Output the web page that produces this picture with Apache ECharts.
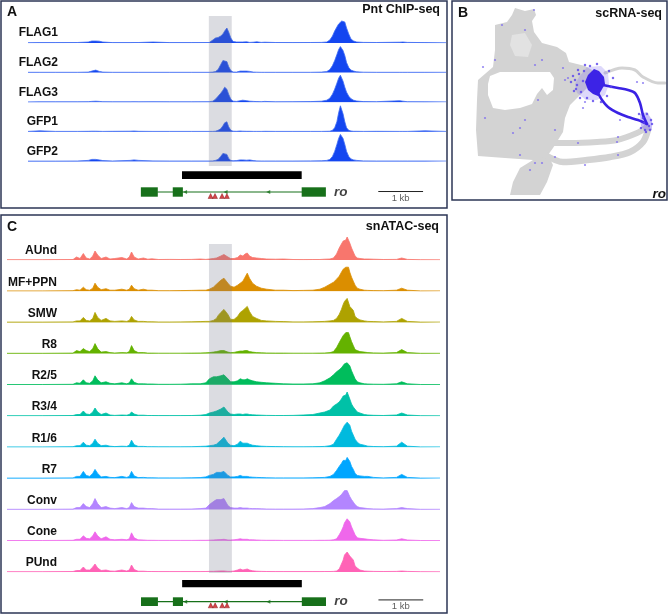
<!DOCTYPE html>
<html>
<head>
<meta charset="utf-8">
<script src="https://cdn.jsdelivr.net/npm/echarts/dist/echarts.min.js"></script>
<style>
  html, body { margin: 0; padding: 0; background: #fff; }
  #chart { width: 669px; height: 615px; }
</style>
</head>
<body>
<div id="chart"></div>
<script>
// ---- A: Pnt ChIP-seq coverage (position in kb, height in track units) ----
const chipNames = ['FLAG1', 'FLAG2', 'FLAG3', 'GFP1', 'GFP2']
const chipPos = [0.48, 0.75, 1.10, 1.60, 1.85, 1.93, 2.02, 2.10, 2.18, 2.40,
  2.80, 2.89, 3.00, 3.32, 3.70, 4.20, 4.60, 4.68, 4.74, 4.80,
  4.86, 4.91, 4.95, 5.00, 5.04, 5.09, 5.14, 5.22, 5.30, 5.36,
  5.45, 5.52, 5.60, 5.68, 5.78, 5.86, 6.10, 6.50, 6.90, 7.15,
  7.27, 7.34, 7.40, 7.45, 7.50, 7.54, 7.58, 7.61, 7.64, 7.68,
  7.72, 7.77, 7.82, 7.88, 7.95, 8.10, 8.40, 8.93, 9.00, 9.10,
  9.50, 9.98]
const chipFLAG1 = [0.3, 0.4, 0.4, 0.5, 1, 2, 2, 1.8, 1, 0.4,
  0.4, 0.5, 0.5, 1, 0.4, 0.4, 0.5, 3, 5, 5.5,
  7, 9, 12, 15, 11, 5, 1.5, 1, 1, 1,
  1.2, 0.6, 0.8, 1.2, 0.6, 0.8, 0.5, 0.4, 0.5, 0.6,
  1, 3, 7, 12, 16, 19, 21, 22, 23, 21,
  15, 9, 4, 2, 1, 0.6, 0.5, 0.8, 1, 0.6,
  0.4, 0.3]
const chipFLAG2 = [0.3, 0.3, 0.3, 0.3, 0.5, 1.5, 2.5, 1.2, 0.5, 0.3,
  0.3, 0.3, 0.3, 0.3, 0.3, 0.3, 0.3, 0.5, 1, 3,
  8, 12, 13, 11, 6, 2, 0.6, 0.5, 1.5, 1.5,
  1.5, 1.2, 0.5, 0.4, 0.3, 0.3, 0.3, 0.3, 0.3, 0.5,
  1, 3, 7, 12, 18, 23, 26, 25, 22, 17,
  10, 5, 2.5, 1.5, 0.8, 0.4, 0.3, 0.3, 0.3, 0.3,
  0.3, 0.3]
const chipFLAG3 = [0.3, 0.4, 0.4, 0.4, 0.5, 0.8, 1, 0.8, 0.5, 0.4,
  0.4, 0.5, 0.4, 0.5, 0.4, 0.4, 0.5, 1, 3, 6,
  9, 12, 15, 13, 8, 3, 1, 0.8, 1.5, 2,
  1.5, 1, 0.8, 0.6, 0.5, 0.8, 0.4, 0.5, 0.6, 1,
  2, 4, 8, 13, 19, 24, 27, 25, 21, 15,
  10, 6, 3.5, 2, 1.2, 0.6, 0.5, 1.5, 1, 0.5,
  0.4, 0.3]
const chipGFP1 = [0.4, 1, 0.4, 0.4, 0.5, 0.6, 0.6, 0.5, 0.4, 0.5,
  0.6, 0.8, 0.5, 0.4, 0.4, 0.4, 0.4, 0.4, 0.6, 1.5,
  3, 6, 9, 10, 5, 1.5, 0.6, 0.5, 0.8, 0.6,
  0.5, 0.5, 0.4, 0.4, 0.4, 0.5, 0.4, 0.4, 0.4, 0.4,
  0.5, 0.6, 1.5, 4, 10, 19, 26, 24, 18, 10,
  4, 1.5, 0.8, 0.5, 0.5, 0.4, 0.5, 0.4, 0.4, 0.4,
  1, 0.4]
const chipGFP2 = [0.3, 0.3, 0.3, 0.4, 1, 2, 2, 1.5, 0.8, 0.4,
  1, 1.5, 1, 0.5, 0.4, 0.4, 0.4, 0.5, 1, 2,
  5, 8, 9, 7, 3, 1, 0.6, 0.8, 1.5, 1.5,
  1.2, 1.5, 0.8, 0.5, 0.4, 0.4, 0.4, 0.4, 0.5, 0.6,
  1, 2, 5, 10, 17, 23, 27, 26, 23, 17,
  10, 5, 2.5, 1.5, 1, 0.5, 0.4, 0.4, 0.4, 0.4,
  0.4, 0.3]
const chipValues = [chipFLAG1, chipFLAG2, chipFLAG3, chipGFP1, chipGFP2]

// ---- C: snATAC-seq pseudobulk coverage ----
const atacNames = ['AUnd', 'MF+PPN', 'SMW', 'R8', 'R2/5', 'R3/4', 'R1/6', 'R7', 'Conv', 'Cone', 'PUnd']
const atacColors = ['#F8766D', '#DB8E00', '#AEA200', '#64B200', '#00BD5C', '#00C1A7',
  '#00BADE', '#00A6FF', '#B385FF', '#EF67EB', '#FF63B6']
const atacPos = [0.00, 0.80, 1.50, 1.58, 1.66, 1.735, 1.80, 1.88, 1.95, 2.00,
  2.06, 2.14, 2.25, 2.34, 2.45, 2.61, 2.72, 2.78, 2.83, 2.89,
  2.98, 3.10, 3.20, 3.29, 3.45, 3.70, 3.95, 4.20, 4.39, 4.52,
  4.60, 4.69, 4.76, 4.80, 4.86, 4.93, 4.96, 5.02, 5.08, 5.16,
  5.24, 5.30, 5.36, 5.41, 5.46, 5.51, 5.58, 5.67, 5.78, 5.90,
  6.10, 6.28, 6.50, 6.73, 6.95, 7.11, 7.22, 7.34, 7.42, 7.49,
  7.55, 7.60, 7.64, 7.67, 7.70, 7.73, 7.76, 7.79, 7.83, 7.87,
  7.91, 7.96, 8.02, 8.06, 8.12, 8.20, 8.33, 8.55, 8.85, 8.97,
  9.10, 9.40, 9.84]
const atacAUnd = [0.3, 0.3, 0.5, 3, 1.5, 6.5, 2, 1, 4, 9,
  5, 1.5, 3, 1, 1.5, 2.5, 1, 3, 8, 3,
  1, 2, 0.8, 1.2, 0.5, 0.6, 0.5, 0.6, 1, 0.6,
  1, 1.5, 2, 3, 4, 5.5, 6, 3, 1.5, 1.5,
  2.5, 5, 4, 6, 7, 4, 2.5, 2, 1.5, 1,
  0.8, 1, 0.5, 0.4, 0.5, 0.5, 0.8, 1, 2, 6,
  12, 16, 19, 21, 20, 23, 21, 17, 12, 8,
  4, 2, 1.5, 3, 1, 1, 0.8, 0.5, 0.6, 2,
  0.6, 0.3, 0.3]
const atacMFPPN = [0.3, 0.3, 0.5, 1.5, 1, 4, 1.5, 1, 3, 8,
  4, 1.5, 2.5, 1, 1, 2, 1, 2, 6, 2.5,
  1, 2, 1, 1, 0.5, 0.5, 0.6, 0.8, 1, 1,
  2, 4, 7, 9, 11, 13, 12, 8, 5, 4,
  6, 8, 10, 14, 18, 13, 8, 5, 3, 2,
  1, 1, 0.6, 0.8, 1, 2, 4, 7, 9, 12,
  15, 19, 22, 20, 24, 22, 24, 19, 14, 10,
  6, 3, 2, 1.5, 1, 0.8, 0.6, 0.5, 1, 3,
  1, 0.3, 0.3]
const atacSMW = [0.3, 0.3, 0.5, 1.5, 1.5, 5, 2, 1.5, 4, 10,
  5, 2, 4, 1.5, 1, 1.5, 1, 2, 6, 2.5,
  1, 1, 0.6, 0.6, 0.4, 0.4, 0.5, 0.6, 0.8, 1,
  1, 2, 4, 7, 10, 13, 14, 8, 3, 3,
  6, 10, 12, 14, 16, 11, 6, 4, 2, 1.5,
  1, 0.8, 0.5, 0.5, 0.6, 0.8, 1, 1.5, 2, 4,
  8, 13, 18, 21, 20, 24, 22, 16, 14, 12,
  6, 4, 2.5, 3, 1.5, 1, 0.8, 0.5, 1, 4,
  1, 0.3, 0.3]
const atacR8 = [0.3, 0.3, 0.5, 3, 2, 5, 3, 2, 5, 10,
  5, 1.5, 2, 1, 0.6, 1, 0.8, 2, 8, 3,
  1, 1, 0.5, 0.5, 0.4, 0.4, 0.4, 0.5, 0.6, 0.8,
  1, 1.5, 2, 2.5, 3, 3, 2, 1.5, 1, 1.2,
  2, 2.5, 2.5, 3, 3, 2, 1.5, 1, 0.8, 0.6,
  0.5, 0.5, 0.4, 0.4, 0.4, 0.5, 0.6, 1, 2, 6,
  11, 15, 18, 19, 21, 20, 21, 17, 12, 8,
  4, 3, 2, 3, 1.5, 1, 0.7, 0.5, 1, 4,
  1, 0.3, 0.3]
const atacR25 = [0.3, 0.3, 0.5, 2, 1.5, 5, 2, 1.5, 4, 9,
  5, 2, 3, 1.5, 1, 2, 1, 2, 6, 2.5,
  1, 1, 0.8, 0.8, 0.5, 0.5, 0.6, 1, 1, 2,
  6, 8, 8, 9, 9, 10, 9, 6, 3, 3,
  4, 6, 5, 5, 6, 5, 4, 3, 2.5, 2,
  1.5, 1, 0.8, 0.8, 1, 2, 4, 7, 10, 13,
  15, 17, 19, 21, 20, 22, 21, 19, 14, 10,
  6, 3, 2, 1.5, 1, 0.8, 0.6, 0.5, 1, 3,
  1, 0.3, 0.3]
const atacR34 = [0.3, 0.3, 0.5, 1.5, 1.5, 5, 2, 1.5, 4, 8,
  4, 1.5, 3, 1, 0.6, 1, 0.8, 1.5, 4, 2,
  0.8, 0.8, 0.5, 0.5, 0.4, 0.4, 0.4, 0.5, 0.8, 1.5,
  3, 4, 5, 5, 7, 9, 8, 4, 2, 1.5,
  2, 2, 1.5, 2, 2, 1.5, 1.2, 1, 0.8, 0.6,
  0.5, 0.5, 0.6, 1, 1.5, 3, 4, 6, 10, 12,
  14, 17, 20, 22, 21, 24, 22, 17, 12, 9,
  8, 4, 3, 2, 1.5, 1, 0.7, 0.5, 1, 3,
  1, 0.3, 0.3]
const atacR16 = [0.3, 0.3, 0.5, 1.5, 1.5, 5, 2, 1.5, 4, 8,
  4, 1.5, 2, 1, 0.6, 1, 0.8, 2, 7, 2.5,
  0.8, 0.8, 0.5, 0.5, 0.4, 0.4, 0.4, 0.5, 0.8, 1,
  1.5, 2, 3, 4, 7, 10, 8, 4, 2, 1.5,
  3, 6, 4, 4, 4, 3, 2, 1.5, 1, 0.8,
  0.6, 0.5, 0.4, 0.4, 0.5, 0.6, 0.8, 1.5, 3, 8,
  12, 16, 18, 22, 20, 25, 27, 22, 16, 14,
  8, 5, 3, 5, 2, 1, 0.7, 0.5, 1, 5,
  1, 0.3, 0.3]
const atacR7 = [0.3, 0.3, 0.5, 2, 2, 7, 3, 2, 5, 9,
  5, 1.5, 2, 1, 0.8, 2, 1, 2, 7, 2.5,
  0.8, 1, 0.6, 0.6, 0.5, 0.5, 0.5, 0.6, 0.8, 1.5,
  3, 4, 6, 6, 6, 7, 6, 3, 1.5, 1.5,
  2, 3, 2, 2, 2, 1.5, 1.2, 1, 0.8, 0.6,
  0.5, 0.5, 0.5, 0.5, 0.6, 0.8, 1, 2, 4, 8,
  12, 15, 18, 19, 18, 21, 22, 17, 12, 9,
  5, 3, 2.5, 3, 2, 2, 1, 0.5, 1, 4,
  1, 0.3, 0.3]
const atacConv = [0.3, 0.3, 0.5, 2, 2, 6, 3, 2, 6, 11,
  6, 2, 3, 1.5, 1, 2, 1, 2, 7, 3,
  1.5, 1.5, 1, 1, 0.5, 0.5, 0.5, 0.6, 1, 1.5,
  5, 8, 10, 9, 10, 11, 10, 4, 2, 1.5,
  1.5, 2, 1.5, 1.5, 1.5, 1.2, 1, 1, 0.8, 0.6,
  0.5, 0.5, 0.5, 0.6, 1, 2, 3, 6, 9, 11,
  13, 15, 17, 19, 18, 19, 17, 13, 10, 8,
  5, 3, 2, 2, 1.5, 1, 0.7, 0.5, 1, 2,
  1, 0.3, 0.3]
const atacCone = [0.3, 0.3, 0.5, 1.5, 1.5, 5, 2.5, 2, 5, 9,
  5, 2, 4, 1.5, 1, 1.5, 1, 2, 8, 3,
  1, 0.8, 0.5, 0.5, 0.4, 0.4, 0.4, 0.4, 0.5, 0.5,
  0.6, 0.8, 1, 1, 1.2, 1.5, 1.2, 0.8, 0.8, 1,
  1.5, 2, 1.5, 1.5, 1.5, 1, 1, 0.8, 0.6, 0.5,
  0.5, 0.4, 0.4, 0.4, 0.4, 0.5, 0.5, 0.6, 1, 2,
  6, 10, 14, 18, 20, 22, 24, 19, 14, 10,
  6, 3, 2.5, 2, 2, 1.5, 1, 0.5, 0.8, 2,
  0.8, 0.3, 0.3]
const atacPUnd = [0.3, 0.3, 0.5, 1.5, 1.5, 5, 2, 2, 5, 8,
  4, 1.5, 2, 1, 0.8, 2, 1, 2, 7, 2.5,
  0.8, 0.8, 0.5, 0.5, 0.4, 0.4, 0.4, 0.4, 0.4, 0.5,
  0.6, 0.6, 0.8, 0.8, 1, 1, 0.8, 0.6, 0.6, 1,
  2, 3, 2, 2.5, 3, 2, 1.2, 0.8, 0.6, 0.5,
  0.4, 0.4, 0.4, 0.4, 0.4, 0.4, 0.5, 0.5, 0.6, 1,
  3, 8, 12, 17, 19, 20, 21, 16, 15, 12,
  6, 4, 2, 1.5, 1, 0.8, 0.6, 0.5, 0.6, 1,
  0.6, 0.3, 0.3]
const atacValues = [atacAUnd, atacMFPPN, atacSMW, atacR8, atacR25, atacR34,
  atacR16, atacR7, atacConv, atacCone, atacPUnd]

// ---- shared locus annotation (kb) ----
const highlightSpan = [[4.59, 5.11]]
const peakBar = [[3.98, 6.70]]
const roExons = [[3.045, 3.43], [3.77, 4.0], [6.70, 7.25]]
const roIntron = [3.43, 6.70]
const roStrand = [4.05, 4.97, 5.94]
const pntSites = [4.63, 4.73, 4.89, 5.0]
const scaleBar = [8.45, 9.45]

// ---- B: UMAP outline (UMAP1, UMAP2) ----
const umapBody = [[5.0, 17.5], [6.2, 17.8], [6.7, 18.5], [7.0, 19.2], [8.0, 18.9], [8.9, 19.1],
  [9.1, 18.5], [8.7, 17.9], [8.9, 16.8], [9.7, 15.7], [11.2, 15.3], [12.1, 14.7], [12.4, 13.8],
  [14.0, 13.4], [14.7, 13.0], [14.9, 12.0], [14.2, 11.2], [13.5, 10.5], [12.5, 9.5], [12.0, 8.2],
  [11.8, 6.8], [10.8, 5.2], [10.3, 4.5], [10.8, 3.5], [10.2, 1.8], [9.5, 0.5], [6.5, 0.5],
  [6.8, 1.8], [7.5, 3.2], [8.8, 4.0], [6.0, 4.2], [3.3, 4.4], [3.1, 7.0], [3.2, 10.0],
  [3.3, 12.0], [4.8, 13.3], [5.0, 15.0]]
const umapHole = [[4.5, 12.4], [5.5, 12.8], [8.0, 12.8], [10.5, 12.8], [10.9, 12.2], [10.8, 11.0],
  [10.2, 10.5], [9.7, 11.2], [9.2, 10.6], [8.7, 9.6], [7.5, 9.2], [6.0, 9.0], [4.8, 9.2],
  [4.3, 10.5], [4.3, 11.6]]
const umapSparse = [[6.7, 16.5], [8.0, 16.7], [8.7, 15.5], [8.3, 14.3], [7.0, 14.4], [6.5, 15.5]]
const umapArcUpper = [[10.3, 5.7], [12.5, 5.7], [15.2, 5.8], [17.2, 6.0], [19.2, 6.7], [20.2, 7.3]]
const umapArcLower = [[10.0, 4.5], [11.8, 3.8], [14.2, 4.0], [16.5, 4.3], [18.5, 4.8], [19.8, 5.8], [20.3, 7.0]]
const umapTail = [[16.0, 12.7], [17.7, 13.2], [19.0, 13.0], [19.8, 12.3], [21.3, 11.7], [22.0, 11.7]]
const roHalo = [[13.4, 12.3], [14.2, 13.3], [15.6, 13.4], [16.3, 12.7], [16.4, 11.6], [16.0, 10.5],
  [15.2, 10.0], [14.1, 10.0], [13.2, 10.7], [13.0, 11.6]]
const roHub = [[14.3, 12.5], [14.9, 13.1], [15.4, 12.9], [15.9, 12.3], [16.0, 11.6], [15.6, 10.9],
  [15.3, 10.4], [14.8, 10.6], [14.3, 11.0], [14.0, 11.8]]
const roBranchUpper = [[15.8, 11.5], [17.3, 11.2], [18.3, 11.0], [19.0, 10.7], [19.5, 9.7], [19.8, 8.5], [20.2, 7.6]]
const roBranchLower = [[15.3, 10.7], [15.7, 10.0], [16.3, 9.3], [17.3, 8.7], [18.3, 8.3], [19.3, 8.0], [20.2, 7.6]]
const roTip = [[19.5, 8.6], [20.2, 8.8], [20.7, 8.0], [20.7, 7.0], [20.0, 6.9], [19.6, 7.4]]
const roCells = [[5.7, 17.5], [8.0, 17.0], [8.9, 19.0], [3.8, 13.3], [5.0, 14.0], [12.0, 12.0],
  [12.3, 12.2], [4.0, 8.2], [6.8, 6.7], [7.5, 7.2], [8.0, 8.0], [9.3, 10.0], [8.5, 3.0],
  [9.0, 3.7], [11.0, 4.3], [13.3, 5.7], [17.3, 6.3], [17.2, 5.8], [17.3, 4.5], [14.0, 3.5],
  [9.7, 3.7], [7.5, 4.5], [9.0, 13.5], [11.8, 13.2], [9.7, 14.0], [11.0, 7.0], [13.8, 9.2],
  [14.0, 9.8], [17.5, 8.0], [19.2, 11.8], [19.8, 11.7]]
const roCellsDense = [[13.0, 12.0], [13.2, 11.5], [13.4, 12.6], [13.6, 10.8], [13.8, 11.9],
  [13.9, 12.9], [14.2, 10.2], [14.5, 13.4], [13.5, 10.2], [14.8, 9.9], [15.6, 9.8], [16.2, 10.4],
  [16.4, 12.9], [16.6, 11.3], [13.1, 11.1], [12.8, 12.4], [12.6, 11.8], [12.9, 10.9], [13.3, 13.0],
  [16.8, 12.2], [15.2, 13.6], [14.0, 13.5], [19.6, 7.2], [19.8, 8.2], [20.0, 7.0],
  [20.2, 8.6], [20.4, 7.4], [20.6, 8.0], [20.5, 7.0], [19.9, 7.7], [20.7, 7.6], [19.4, 8.6], [20.1, 6.8]]

const FONT = '"Liberation Sans", Arial, sans-serif'
const chart = echarts.init(document.getElementById('chart'), null, { renderer: 'canvas' })

const grids = [], xAxes = [], yAxes = [], series = [], graphics = []

function addGrid(left, top, width, height, xr, yr) {
  const i = grids.length
  grids.push({ left, top, width, height })
  xAxes.push({ gridIndex: i, type: 'value', min: xr[0], max: xr[1], show: false })
  yAxes.push({ gridIndex: i, type: 'value', min: yr[0], max: yr[1], show: false })
  return i
}

function text(x, y, str, font, align, color) {
  graphics.push({
    type: 'text', x, y, z: 100, silent: true,
    style: { text: str, font, fill: color || '#111', align, textAlign: align,
      verticalAlign: 'middle', textVerticalAlign: 'middle' }
  })
}

function spans(g, data, fill, z) {
  return {
    type: 'custom', xAxisIndex: g, yAxisIndex: g, z, silent: true, data,
    renderItem(params, api) {
      const cs = params.coordSys
      const x0 = api.coord([api.value(0), 0])[0]
      const x1 = api.coord([api.value(1), 0])[0]
      return { type: 'rect', shape: { x: x0, y: cs.y, width: x1 - x0, height: cs.height }, style: { fill } }
    }
  }
}

function polygon(g, pts, fill, z) {
  return {
    type: 'custom', xAxisIndex: g, yAxisIndex: g, z, silent: true, data: [pts[0]],
    renderItem(params, api) {
      return { type: 'polygon', shape: { points: pts.map(p => api.coord(p)) }, style: { fill } }
    }
  }
}

function path(g, pts, color, width, z, smooth) {
  return {
    type: 'line', xAxisIndex: g, yAxisIndex: g, z, silent: true, data: pts,
    symbol: 'none', smooth: smooth || false, lineStyle: { color, width, cap: 'round' }
  }
}

function note(g, pt, str, label) {
  return {
    type: 'scatter', xAxisIndex: g, yAxisIndex: g, z: 6, silent: true,
    data: [pt], symbolSize: 1, itemStyle: { color: 'rgba(0,0,0,0)' },
    label: Object.assign({ show: true, formatter: str, fontFamily: FONT }, label)
  }
}

function track(g, pos, vals, fill, line) {
  return {
    type: 'line', xAxisIndex: g, yAxisIndex: g, z: 2, silent: true,
    data: pos.map((x, j) => [x, vals[j]]), symbol: 'none',
    lineStyle: { color: line, width: 0.8 }, areaStyle: { color: fill, opacity: 1 }
  }
}

// locus annotation: highlight, peak bar, gene model, scale bar
function locus(p) {
  const band = addGrid(p.left, p.band[0], p.width, p.band[1] - p.band[0], p.xr, [0, 1])
  series.push(spans(band, highlightSpan, 'rgba(110,115,135,0.25)', 10))
  const bar = addGrid(p.left, p.bar[0], p.width, p.bar[1] - p.bar[0], p.xr, [0, 1])
  series.push(spans(bar, peakBar, '#000', 3))
  const gene = addGrid(p.left, p.gene[0], p.width, p.gene[1] - p.gene[0], p.xr, [-1, 1])
  const green = '#17701A'
  series.push(spans(gene, roExons, green, 4))
  series.push(path(gene, [[roIntron[0], 0], [roIntron[1], 0]], green, 1.2, 3))
  series.push({
    type: 'scatter', xAxisIndex: gene, yAxisIndex: gene, z: 4, silent: true,
    data: roStrand.map(x => [x, 0]), symbol: 'triangle', symbolRotate: 90, symbolSize: 4,
    itemStyle: { color: green }
  })
  series.push({
    type: 'scatter', xAxisIndex: gene, yAxisIndex: gene, z: 5, silent: true,
    data: pntSites.map(x => [x, -0.85]), symbol: 'triangle', symbolSize: 5,
    itemStyle: { color: '#C8161D', borderColor: '#7A0A0A', borderWidth: 0.5 }
  })
  series.push(path(gene, [[scaleBar[0], p.scaleY], [scaleBar[1], p.scaleY]], '#222', 1, 3))
  series.push(note(gene, [(scaleBar[0] + scaleBar[1]) / 2, p.scaleY], '1 kb',
    { position: 'bottom', distance: 1, fontSize: 9.5, color: '#333' }))
  series.push(note(gene, [7.38, 0], 'ro',
    { position: 'right', distance: 2, fontSize: 13.5, fontWeight: 'bold', fontStyle: 'italic', color: '#111' }))
}

// ---------- Panel A ----------
const pA = { left: 28, width: 418, xr: [0.48, 9.98], base0: 43, step: 29.6, h: 28,
  band: [16, 166], bar: [171.3, 179], gene: [187.3, 196.7], scaleY: 0.1 }
chipNames.forEach((name, i) => {
  const base = pA.base0 + i * pA.step
  const g = addGrid(pA.left, base - pA.h, pA.width, pA.h, pA.xr, [0, 28])
  series.push(track(g, chipPos, chipValues[i], '#1446F0', '#3F6CF4'))
  text(58, base - 10, name, 'bold 12px ' + FONT, 'right')
})
locus(pA)
text(7, 12, 'A', 'bold 14px ' + FONT, 'left')
text(440, 10, 'Pnt ChIP-seq', 'bold 12.5px ' + FONT, 'right')

// ---------- Panel C ----------
const pC = { left: 7, width: 433, xr: [0, 9.84], base0: 260, step: 31.2, h: 28,
  band: [244, 573], bar: [580, 587.3], gene: [597.3, 606], scaleY: 0.4 }
atacNames.forEach((name, i) => {
  const base = pC.base0 + i * pC.step
  const g = addGrid(pC.left, base - pC.h, pC.width, pC.h, pC.xr, [0, 28])
  series.push(track(g, atacPos, atacValues[i], atacColors[i], atacColors[i]))
  text(57, base - 9, name, 'bold 12px ' + FONT, 'right')
})
locus(pC)
text(7, 227, 'C', 'bold 14px ' + FONT, 'left')
text(439, 227, 'snATAC-seq', 'bold 12.5px ' + FONT, 'right')

// ---------- Panel B ----------
const u = addGrid(445, 0, 224, 200, [0, 22.4], [0, 20])
const grey = '#D3D3D3'
series.push(polygon(u, umapBody, grey, 2))
series.push(polygon(u, umapHole, '#fff', 3))
series.push(polygon(u, umapSparse, '#E2E2E2', 3))
series.push(path(u, umapArcUpper, grey, 6, 2, 0.3))
series.push(path(u, umapArcLower, grey, 6.5, 2, 0.3))
series.push(path(u, umapTail, grey, 3, 2, 0.3))
series.push(polygon(u, roHalo, 'rgba(120,100,240,0.25)', 4))
series.push(polygon(u, roTip, 'rgba(120,100,240,0.4)', 4))
series.push(path(u, roBranchUpper, '#3A22E4', 2.6, 5, 0.3))
series.push(path(u, roBranchLower, '#3A22E4', 2.6, 5, 0.3))
series.push(polygon(u, roHub, '#3C23E6', 6))
series.push({
  type: 'scatter', xAxisIndex: u, yAxisIndex: u, z: 6, silent: true,
  data: roCellsDense, symbolSize: 2.5, itemStyle: { color: '#5A45EC' }
})
series.push({
  type: 'scatter', xAxisIndex: u, yAxisIndex: u, z: 6, silent: true,
  data: roCells, symbolSize: 2.2, itemStyle: { color: '#7D6CF0' }
})
text(458, 13, 'B', 'bold 14px ' + FONT, 'left')
text(662, 14, 'scRNA-seq', 'bold 12.5px ' + FONT, 'right')
text(666, 194, 'ro', 'italic bold 13.5px ' + FONT, 'right')

// panel frames
const frame = { stroke: '#2C3656', lineWidth: 1.5, fill: 'none' }
graphics.push({ type: 'rect', z: 100, silent: true, shape: { x: 1, y: 1, width: 446, height: 207 }, style: frame })
graphics.push({ type: 'rect', z: 100, silent: true, shape: { x: 452, y: 1, width: 215, height: 199 }, style: frame })
graphics.push({ type: 'rect', z: 100, silent: true, shape: { x: 1, y: 215, width: 446, height: 398 }, style: frame })

chart.setOption({
  animation: false,
  backgroundColor: '#fff',
  grid: grids,
  xAxis: xAxes,
  yAxis: yAxes,
  series,
  graphic: graphics
})
</script>
</body>
</html>
